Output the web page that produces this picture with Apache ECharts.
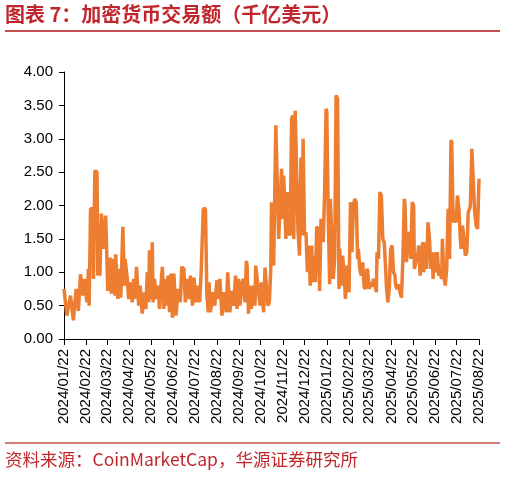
<!DOCTYPE html>
<html>
<head>
<meta charset="utf-8">
<script src="https://cdn.jsdelivr.net/npm/echarts@6/dist/echarts.min.js"></script>
<style>
html,body{margin:0;padding:0;background:#fff;}
#chart{width:506px;height:478px;}
</style>
</head>
<body>
<div id="chart"></div>
<script>
// Start date and end date of the category axis
const startDate = '2024/01/22';
const endDate = '2025/08/22';
// Days since 2024/01/22 for each reading
const dayIndex = [
0,4,6,9,13,17,20,23,26,28,32,34,35,37,40,41,43,46,47,49,50,52,55,58,59,61,64,66,68,71,72,75,77,79,82,84,85,88,90,93,95,97,99,101,104,106,109,111,114,116,118,119,121,123,124,126,129,131,133,136,137,139,141,143,145,147,149,151,153,156,159,162,164,167,169,171,174,176,179,181,184,186,189,191,194,197,199,201,202,204,207,210,213,215,217,220,223,226,228,231,233,236,239,241,243,245,248,250,252,254,255,257,259,261,263,266,267,269,
273,275,278,280,282,284,286,288,289,292,293,295,297,299,301,303,305,306,309,311,313,315,317,319,320,322,324,326,328,330,332,333,335,337,339,341,343,345,346,348,350,352,354,356,358,359,361,363,365,366,368,370,371,373,375,377,379,381,383,384,386,388,390,392,394,396,397,399,401,403,405,407,409,410,412,414,416,418,420,422,423,425,427,429,431,433,435,436,438,440,442,444,446,448,449,451,453,455,457,459,461,462,464,466,468,470,472,474,475,477,479,481,483,485,487,488,490,492,494,496,498,500,501,503,505,507,509,511,513,514,516,518,520,522,524,526,527,529,531,533,535,537,539,540,542,544,546,548,550,552,553,555,557,559,561,563,565,566,568,570,572,574,576,578
];
// Crypto trading volume (hundred billion USD)
const volume = [
0.75,0.35,0.33,0.65,0.28,0.75,0.42,0.97,0.65,0.9,0.55,1.05,0.5,1.95,1.95,0.9,2.52,2.5,0.95,1.7,0.95,1.88,1.35,1.85,1.5,0.72,1.22,0.68,1.2,0.65,1.27,0.6,1.05,0.62,1.68,0.8,1.2,0.92,0.6,0.85,0.55,0.9,0.6,1.08,0.5,0.8,0.38,0.7,0.45,1.0,0.55,1.33,0.6,1.45,0.55,0.9,0.6,0.8,0.45,0.95,1.08,0.45,0.9,0.5,0.95,0.4,0.98,0.32,0.98,0.35,0.75,0.55,1.08,1.05,0.55,0.9,0.6,0.95,0.5,0.92,0.55,0.8,0.55,1.0,1.95,1.95,0.65,0.4,0.85,0.4,0.7,0.5,0.88,0.6,0.9,0.35,0.7,0.4,1.0,0.4,0.72,0.5,0.95,0.45,0.9,0.5,0.85,0.9,0.55,1.17,1.1,0.38,0.8,0.45,0.8,0.5,1.1,1.08,
0.5,0.85,0.4,1.07,1.07,0.5,0.55,1.05,2.05,1.1,1.1,3.2,3.2,1.5,2.0,2.55,1.8,2.45,1.5,2.2,1.6,1.55,3.3,3.35,1.5,3.42,3.42,1.6,1.25,2.72,1.55,3.0,1.55,1.6,1.0,1.4,0.8,1.4,0.85,1.25,0.85,1.68,1.65,0.72,1.8,1.8,1.45,2.2,3.45,3.4,1.85,0.82,2.1,2.1,0.9,1.2,3.65,3.6,0.75,1.35,0.8,1.25,1.0,0.6,1.1,1.1,0.7,2.05,1.3,2.0,2.1,2.05,1.2,1.35,1.05,0.95,1.15,0.78,0.75,1.05,1.02,0.75,0.85,0.78,0.9,0.85,0.7,1.3,1.2,2.2,2.15,1.5,1.45,1.05,0.8,0.55,0.75,1.35,1.4,1.0,0.95,0.8,0.75,0.82,0.7,0.62,1.2,2.1,2.0,1.15,1.55,1.6,1.2,2.05,2.0,1.05,1.15,1.2,1.4,0.95,1.35,1.45,1.0,1.45,1.05,1.75,1.5,1.05,1.3,0.9,1.3,1.0,1.3,0.95,1.0,0.9,1.5,0.95,0.8,1.05,1.95,1.2,2.98,2.95,1.75,1.8,1.75,2.15,1.95,1.5,1.35,1.7,1.5,1.25,1.3,1.9,1.95,2.0,2.85,2.85,1.9,1.7,1.65,2.4
];
const yTicks = ['0.00','0.50','1.00','1.50','2.00','2.50','3.00','3.50','4.00'];
const titleText = '图表 7：加密货币交易额（千亿美元）';
const sourceText = '资料来源：CoinMarketCap，华源证券研究所';

function pad(n){return n<10?'0'+n:''+n;}
const categories = [];
(function(){
  const s = startDate.split('/').map(Number);
  const e = endDate.split('/').map(Number);
  let d = Date.UTC(s[0], s[1]-1, s[2]);
  const end = Date.UTC(e[0], e[1]-1, e[2]);
  while (d <= end) {
    const dt = new Date(d);
    categories.push(dt.getUTCFullYear()+'/'+pad(dt.getUTCMonth()+1)+'/'+pad(dt.getUTCDate()));
    d += 86400000;
  }
})();
const seriesData = dayIndex.map((di,i)=>[categories[di], volume[i]]);
const isTickDay = (idx, val) => String(val).slice(8) === '22';

const chart = echarts.init(document.getElementById('chart'), null, {renderer:'canvas'});
const red = '#C0272D';
chart.setOption({
  animation:false,
  backgroundColor:'#fff',
  grid:{left:64,right:27,top:72,bottom:139,containLabel:false},
  graphic:[
    {type:'text',left:5,top:4,style:{text:titleText,fill:red,font:'bold 20px "Noto Sans CJK SC"'}},
    {type:'line',shape:{x1:5,y1:31,x2:500,y2:31},style:{stroke:'#C0504D',lineWidth:2}},
    {type:'line',shape:{x1:5,y1:443,x2:500,y2:443},style:{stroke:'#C0504D',lineWidth:1.5}},
    {type:'text',left:5,top:451,style:{text:sourceText,fill:red,font:'17.5px "Noto Sans CJK SC"'}}
  ],
  xAxis:{
    type:'category',
    data:categories,
    boundaryGap:false,
    axisLine:{lineStyle:{color:'#000',width:1}},
    axisTick:{show:true,interval:isTickDay,length:6,lineStyle:{color:'#000'}},
    axisLabel:{interval:isTickDay,rotate:90,margin:10,color:'#000',fontSize:15,fontFamily:'Liberation Sans, Arial'},
    splitLine:{show:false}
  },
  yAxis:{
    type:'value',
    min:0,max:4,interval:0.5,
    axisLine:{show:true,lineStyle:{color:'#000',width:1}},
    axisTick:{show:true,length:5,lineStyle:{color:'#000'}},
    axisLabel:{color:'#000',fontSize:15,margin:11,fontFamily:'Liberation Sans, Arial',
      formatter:(v)=>yTicks[Math.round(v/0.5)]},
    splitLine:{show:false}
  },
  series:[{
    type:'line',
    data:seriesData,
    showSymbol:false,
    symbol:'none',
    lineStyle:{color:'#ED7D31',width:3.5},
    itemStyle:{color:'#ED7D31'}
  }]
});
</script>
</body>
</html>
